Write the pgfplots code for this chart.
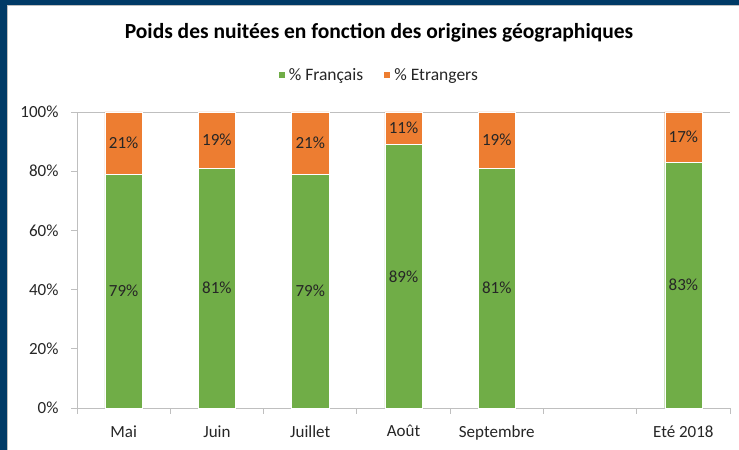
\documentclass[border=0pt]{standalone}
\usepackage{fontspec}
\setmainfont{Carlito}
\usepackage{pgfplots}
\usepackage{pgfplotstable}
\pgfplotsset{compat=1.18}

\definecolor{fr}{HTML}{70AD47}
\definecolor{etr}{HTML}{ED7D31}
\definecolor{navy}{HTML}{003A66}
\definecolor{axisgray}{HTML}{BFBFBF}
\definecolor{txt}{HTML}{262626}

% x: 0 Mai, 1 Juin, 2 Juillet, 3 Aout, 4 Septembre, (5 vide), 6 Ete 2018
\pgfplotstableread{
x  val
0  79
1  81
2  79
3  89
4  81
6  83
}\francais
\pgfplotstableread{
x  val
0  21
1  19
2  21
3  11
4  19
6  17
}\etrangers

\pgfplotsset{chartframe/.style={
  at={(77bp,42bp)}, anchor=south west,
  scale only axis,
  width=653bp, height=296bp,
  xmin=-0.5, xmax=6.5,
  ymin=0, ymax=100,
  /pgf/number format/assume math mode=true,
}}

\begin{document}
\begin{tikzpicture}[x=1bp,y=1bp]
% page: 739 x 450
\path[use as bounding box, fill=white] (0,0) rectangle (739,450);
\fill[navy] (0,0) rectangle (7,450);
\fill[navy] (0,445) rectangle (739,450);
\draw[axisgray, line width=0.6bp] (7.3,0) -- (7.3,444.7) -- (739,444.7);

\node[font=\fontsize{21.5bp}{25bp}\selectfont\bfseries, text=black] at (379,417)
  {Poids des nuitées en fonction des origines géographiques};

\begin{axis}[
  chartframe,
  ybar stacked,
  bar width=0.4,
  axis x line*=bottom,
  axis y line*=left,
  axis line style={axisgray, line width=0.8bp},
  xtick={0,1,2,3,4,6},
  xticklabels={Mai, Juin, Juillet, Août, Septembre, Eté 2018},
  minor xtick={-0.5,0.5,...,6.5},
  major x tick style={draw=none},
  minor x tick style={axisgray, line width=0.8bp},
  ytick={0,20,...,100},
  y tick style={axisgray, line width=0.8bp},
  tick align=outside,
  major tick length=6bp,
  minor tick length=6bp,
  yticklabel={\pgfmathprintnumber{\tick}\%},
  ticklabel style={font=\fontsize{17bp}{20bp}\selectfont, text=txt},
  xticklabel style={yshift=-8bp},
  yticklabel style={xshift=-9bp},
  legend style={
    at={(0.462,1.125)}, anchor=center,
    legend columns=2,
    draw=none, fill=none,
    font=\fontsize{17.5bp}{20bp}\selectfont,
    text=txt,
    /tikz/every odd column/.append style={column sep=2bp},
    /tikz/every even column/.append style={column sep=18bp},
  },
  legend image code/.code={\fill[#1] (0bp,-3.5bp) rectangle (7bp,3.5bp);},
  clip=false,
]
\addplot[fill=fr, draw=white, line width=0.3bp] table[x=x, y=val] {\francais};
\addplot[fill=etr, draw=white, line width=0.3bp] table[x=x, y=val] {\etrangers};
\legend{\% Français, \% Etrangers}
\draw[axisgray, line width=0.8bp] (axis cs:-0.5,100) -- (axis cs:6.5,100);
\end{axis}

% data labels, centred in each segment
\begin{axis}[
  chartframe,
  hide axis,
  clip=false,
  point meta=explicit,
  nodes near coords={\pgfmathprintnumber{\pgfplotspointmeta}\%},
  every node near coord/.append style={
    anchor=center, font=\fontsize{17bp}{20bp}\selectfont, text=txt},
]
\addplot[draw=none, mark=none] table[x=x, y expr=\thisrow{val}/2, meta=val] {\francais};
\addplot[draw=none, mark=none] table[x=x, y expr=100-\thisrow{val}/2, meta=val] {\etrangers};
\end{axis}
\end{tikzpicture}
\end{document}
